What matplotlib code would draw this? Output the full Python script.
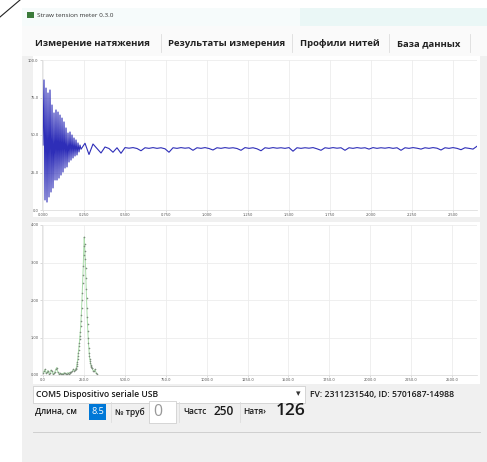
import numpy as np
import matplotlib
matplotlib.use("Agg")
import matplotlib.pyplot as plt
from matplotlib.patches import Rectangle

# ---------------- data ----------------
tabs = ["Измерение натяжения", "Результаты измерения", "Профили нитей", "База данных"]
window_title = "Straw tension meter 0.3.0"
port_label = "COM5 Dispositivo seriale USB"
fw_label = "FV: 2311231540, ID: 5701687-14988"
length_label, length_value = "Длина, см", "8.5"
tube_label, tube_value = "№ труб", "0"
freq_label, freq_value = "Частс", "250"
tension_label, tension_value = "Натя›", "126"

# signal (top plot): ring-down part sampled fine, tail part sampled coarser
sig_dt = 0.25 / 41.0
ringdown = [43.3, 86.7, 6.7, 81.3, 5.3, 78.0, 8.7, 80.0, 12.0, 70.0, 14.7, 64.7,
            20.0, 66.7, 20.0, 65.3, 21.3, 63.3, 23.3, 61.3, 25.3, 58.7, 28.0, 54.7,
            28.7, 51.3, 32.0, 52.0, 33.3, 50.0, 34.7, 48.0, 36.0, 46.7, 36.7, 44.7,
            38.7, 43.3]
tail = [40.5, 44.5, 37.0, 44.0, 41.0, 38.0, 42.0, 41.0, 38.5, 41.5, 37.8, 41.6,
        41.2, 41.6, 41.0, 39.5, 41.5, 41.1, 41.6, 41.1, 41.5, 40.8, 38.5, 41.5,
        41.1, 41.6, 41.2, 41.5, 39.8, 41.5, 41.1, 41.6, 41.0, 40.0, 41.5, 41.1,
        41.6, 41.2, 41.5, 41.0, 39.8, 41.6, 41.1, 41.5, 40.8, 39.5, 41.5, 41.1,
        41.6, 41.2, 41.5, 41.1, 41.6, 39.2, 41.5, 41.1, 41.5, 41.2, 41.6, 40.8,
        39.8, 41.5, 41.1, 41.6, 41.2, 41.5, 39.8, 41.5, 41.1, 41.6, 41.2, 41.5,
        40.6, 41.6, 41.1, 41.5, 41.2, 41.6, 41.1, 41.5, 39.8, 41.5, 41.1, 41.6,
        41.2, 40.6, 41.5, 41.1, 41.6, 41.2, 40.0, 41.5, 41.1, 41.6, 41.1, 40.2,
        41.5, 41.1, 40.6, 42.5]
tail_step = 4  # samples of sig_dt
sig_xticks = [0, 0.25, 0.5, 0.75, 1.0, 1.25, 1.5, 1.75, 2.0, 2.25, 2.5]
sig_yticks = [0, 25, 50, 75, 100]

# spectrum (bottom plot)
spec_low = [0.05, 0.10, 0.15, 0.05, 0.08, 0.12, 0.04, 0.06, 0.13, 0.10, 0.03, 0.05,
            0.08, 0.15, 0.20, 0.08, 0.03, 0.05, 0.02, 0.04, 0.03, 0.05, 0.06, 0.03,
            0.04, 0.06, 0.03, 0.07, 0.05, 0.08, 0.10, 0.15, 0.12, 0.14]     # 0..198 Hz step 6
spec_peak = [0.15, 0.17, 0.20, 0.25, 0.30, 0.35, 0.42, 0.50, 0.60, 0.68, 0.77, 0.85,
             0.95, 1.05, 1.15, 1.30, 1.45, 1.60, 1.80, 2.00, 2.20, 2.45, 2.68, 2.90,
             3.20, 3.45, 3.68, 3.50, 3.30, 3.10, 2.85, 2.58, 2.30, 2.05, 1.80, 1.55,
             1.35, 1.17, 1.00, 0.85, 0.72, 0.60, 0.50, 0.43, 0.38, 0.33, 0.28, 0.25,
             0.22, 0.20]                                                     # 200..298 Hz step 2
spec_high = [0.18, 0.12, 0.10, 0.15, 0.06, 0.04]                             # 300..330 Hz step 6
spec_xticks = [0, 250, 500, 750, 1000, 1250, 1500, 1750, 2000, 2250, 2500]
spec_yticks = [0, 1, 2, 3, 4]

# ---------------- figure ----------------
W, H = 487, 462
fig = plt.figure(figsize=(W / 100, H / 100), dpi=100)
bg = fig.add_axes([0, 0, 1, 1])
bg.set_xlim(0, W)
bg.set_ylim(H, 0)
bg.axis("off")

FONT = "Open Sans"

def rect(x0, y0, x1, y1, fc, ec="none", lw=0.0, z=1):
    bg.add_patch(Rectangle((x0, y0), x1 - x0, y1 - y0, facecolor=fc, edgecolor=ec, linewidth=lw, zorder=z))

def txt(x, y, s, size, color="#1a1a1a", weight="normal", ha="left", z=5):
    bg.text(x, y, s, fontsize=size, color=color, fontweight=weight, ha=ha, va="center",
            family=[FONT, "DejaVu Sans"], zorder=z)

# window chrome
bg.plot([0, 20], [17, 0], color="#222222", lw=0.8, zorder=3)
rect(22, 8, W, 26, "#f6fbfb")
rect(300, 8, W, 26, "#eaf7f6")
rect(22, 26, W, 56, "#fafafa")
rect(22, 56, W, H, "#f0f0f0")
rect(27, 12, 34, 18, "#3a7a3a", z=2)
txt(37, 15.5, window_title, 4.6, color="#333333")

# tabs
tab_x = [35, 168, 300, 397]
sep_x = [161, 292, 389, 470]
for tx, t in zip(tab_x, tabs):
    txt(tx, 43.5, t, 6.8, weight="bold", color="#222222")
for sx in sep_x:
    bg.plot([sx, sx], [34, 52], color="#dddddd", lw=0.6, zorder=3)

# plot panels
rect(33, 56, 480, 217, "white", z=2)
rect(33, 222, 480, 384, "white", z=2)

def px_axes(x0, y0, x1, y1):
    return fig.add_axes([x0 / W, 1 - y1 / H, (x1 - x0) / W, (y1 - y0) / H])

def style(ax):
    ax.set_facecolor("white")
    for s in ax.spines.values():
        s.set_color("#d8d8d8")
        s.set_linewidth(0.5)
    ax.spines["top"].set_visible(False)
    ax.spines["right"].set_visible(False)
    ax.tick_params(length=1.5, width=0.4, color="#bbbbbb", labelsize=2.6,
                   labelcolor="#555555", pad=1)
    ax.grid(True, color="#ececec", lw=0.6)
    ax.set_axisbelow(True)

# top: signal
ax1 = px_axes(42, 60, 477, 210)
style(ax1)
t_ring = np.arange(len(ringdown)) * sig_dt
t_tail = (len(ringdown) + np.arange(len(tail)) * tail_step) * sig_dt
t = np.concatenate([t_ring, t_tail])
y = np.concatenate([ringdown, tail])
ax1.plot(t, y, color="#2e2eb8", lw=0.8)
ax1.set_xlim(-sig_dt, 434 * sig_dt)
ax1.set_ylim(0, 100)
ax1.set_xticks(sig_xticks)
ax1.set_xticklabels([f"{v:.3f}" for v in sig_xticks])
ax1.set_yticks(sig_yticks)
ax1.set_yticklabels([f"{v:.1f}" for v in sig_yticks])

# bottom: spectrum
ax2 = px_axes(42, 225, 477, 375)
style(ax2)
f = np.concatenate([np.arange(0, 200, 6), np.arange(200, 300, 2), np.arange(300, 331, 6)])
s = np.concatenate([spec_low, spec_peak, spec_high])
ax2.plot(f, s, color="#a8dca8", lw=0.7, marker="o", ms=1.0, mfc="#7d8c7d", mec="#7d8c7d",
         mew=0.1)
ax2.set_xlim(-1.0 / 0.164, 435 / 0.164)
ax2.set_ylim(0, 4)
ax2.set_xticks(spec_xticks)
ax2.set_xticklabels([f"{v:.1f}" for v in spec_xticks])
ax2.set_yticks(spec_yticks)
ax2.set_yticklabels([f"{v:.2f}" for v in spec_yticks])

# bottom controls
rect(33, 386, 305, 403, "white", ec="#c8c8c8", lw=0.5, z=2)
txt(36, 394.5, port_label, 6.2, weight="semibold")
txt(298, 394, "▾", 6.5, color="#333333", ha="center")
txt(310, 394.5, fw_label, 6.2, weight="semibold")

txt(35, 412, length_label, 6.0, weight="semibold")
rect(89, 403.5, 106, 420, "#0078d7", z=2)
txt(97.5, 411.5, length_value, 6.6, color="white", ha="center")
bg.plot([111, 111], [402, 422], color="#dddddd", lw=0.6, zorder=3)
txt(115, 412, tube_label, 6.0, weight="semibold")
rect(149, 401, 176, 423, "white", ec="#c8c8c8", lw=0.5, z=2)
txt(153, 412, tube_value, 11.5, color="#999999")
bg.plot([179, 179], [402, 422], color="#dddddd", lw=0.6, zorder=3)
txt(183, 412, freq_label, 6.0, weight="semibold")
txt(214, 411.5, freq_value, 8.6, weight="semibold")
bg.plot([240, 240], [402, 422], color="#dddddd", lw=0.6, zorder=3)
txt(243, 412, tension_label, 6.0, weight="semibold")
txt(276, 411, tension_value, 12.5, weight="semibold")

bg.plot([33, 480], [432, 432], color="#d0d0d0", lw=0.7, zorder=3)

fig.savefig("out.png", dpi=100)
